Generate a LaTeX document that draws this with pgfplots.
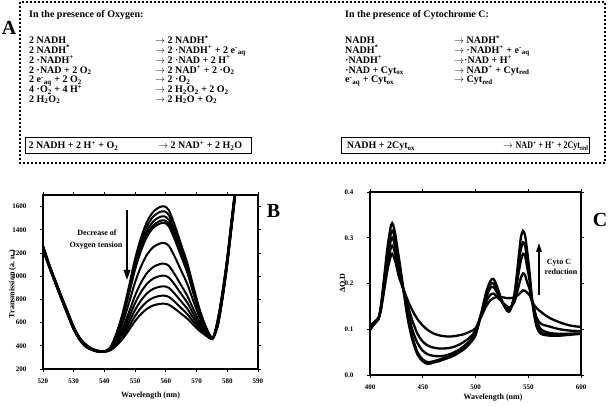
\documentclass[border=0pt]{standalone}
\usepackage{pgfplots}
\pgfplotsset{compat=1.18}
\usepackage{pgfplotstable}
\usepackage{graphicx}
\usepackage{fontspec}
\setmainfont{Liberation Serif}
\usetikzlibrary{arrows.meta}
\newcommand{\sub}[1]{\textsubscript{#1}}
\newcommand{\sups}[1]{\textsuperscript{#1}}
\newcommand{\ar}{$\rightarrow$\ }

\pgfplotstableread{
x k1 k2 k3 k4 k5 k6 k7 k8 k9 k10 k11
520 1265 1260 1255 1250 1248 1245 1240 1235 1230 1228 1225
522 1105 1102 1099 1096 1094 1092 1090 1087 1084 1082 1080
524 965 962 959 956 954 952 950 947 944 942 940
526 828 825 822 819 817 815 813 810 807 805 803
528 695 692 689 686 684 682 680 677 674 672 670
530 565 562 559 556 554 552 550 547 544 542 540
532 468 466 464 462 460 458 456 454 452 450 448
534 410 408 406 404 402 400 398 396 394 392 390
536 375 373 371 370 369 368 367 366 365 364 363
538 358 357 356 355 354 353 352 351 350 349 348
540 352 352 351 351 351 350 350 350 349 349 349
542 388 386 385 384 383 378 373 370 367 364 362
544 513 507 502 497 494 472 449 435 423 413 404
546 688 676 665 655 649 603 555 527 502 480 462
548 913 894 875 859 849 771 691 644 603 567 536
550 1151 1124 1096 1074 1060 949 835 769 710 658 614
552 1339 1305 1271 1243 1226 1089 949 867 794 731 676
554 1477 1438 1399 1368 1348 1192 1032 939 856 784 722
556 1558 1517 1475 1441 1420 1253 1081 981 892 815 749
558 1596 1553 1510 1475 1453 1281 1104 1001 909 830 761
559.5 1602 1559 1516 1481 1459 1286 1108 1004 912 832 763
561 1568 1526 1484 1450 1429 1261 1089 988 899 821 754
563 1431 1394 1358 1328 1309 1162 1011 923 845 777 718
565 1271 1241 1210 1185 1170 1047 921 847 782 725 676
567 1112 1087 1063 1043 1030 932 830 771 719 673 634
569 907 890 873 859 851 783 714 673 638 606 579
571 713 703 694 686 681 643 604 581 561 543 528
573 565 561 557 554 552 536 520 511 503 495 489
575 466 465 464 463 462 462 461 460 459 458 457
576 520 518 516 514 512 510 508 506 504 502 500
577 640 634 628 622 616 610 604 598 592 586 580
578 790 784 778 772 766 760 754 748 742 736 730
579 965 959 953 947 941 935 929 923 917 911 905
580 1160 1154 1148 1142 1136 1130 1124 1118 1112 1106 1100
581 1390 1384 1378 1372 1366 1360 1354 1348 1342 1336 1330
582 1620 1614 1608 1602 1596 1590 1584 1578 1572 1566 1560
583 1850 1844 1838 1832 1826 1820 1814 1808 1802 1796 1790
584 2080 2074 2068 2062 2056 2050 2044 2038 2032 2026 2020
}\tabB

\pgfplotstableread{
x c1 c2 c3 c4 c5
400 .098 .100 .102 .104 .106
403 .108 .110 .111 .112 .114
406 .116 .117 .118 .119 .120
408 .122 .122 .123 .124 .125
410 .145 .143 .142 .140 .138
412 .184 .179 .175 .170 .164
414 .226 .218 .210 .202 .193
416 .268 .257 .246 .234 .222
418 .302 .289 .275 .260 .245
420 .328 .312 .297 .280 .262
421 .332 .315 .300 .283 .265
422 .328 .312 .297 .280 .262
424 .307 .293 .279 .264 .248
426 .277 .265 .254 .242 .228
428 .247 .238 .230 .221 .210
430 .215 .210 .205 .200 .198
433 .165 .168 .172 .175 .180
436 .120 .125 .140 .150 .162
440 .078 .085 .100 .120 .142
445 .045 .050 .070 .090 .122
450 .030 .034 .053 .073 .108
455 .024 .028 .045 .064 .098
460 .027 .030 .042 .060 .091
465 .030 .033 .041 .058 .087
470 .034 .037 .042 .058 .085
475 .038 .041 .045 .059 .084
480 .043 .046 .050 .062 .085
485 .050 .052 .056 .067 .087
490 .058 .060 .065 .074 .090
495 .070 .072 .076 .083 .095
500 .087 .089 .092 .097 .102
505 .130 .130 .130 .130 .125
510 .180 .175 .168 .160 .150
514 .205 .198 .190 .175 .163
517 .210 .200 .192 .178 .168
520 .196 .188 .182 .172 .170
525 .163 .160 .160 .160 .170
530 .140 .142 .145 .150 .168
533 .142 .143 .145 .148 .168
537 .178 .175 .170 .160 .170
541 .260 .245 .225 .195 .176
543 .300 .275 .250 .212 .181
545 .315 .290 .265 .222 .185
547 .305 .282 .260 .218 .184
549 .270 .252 .235 .202 .180
551 .230 .220 .210 .190 .175
553 .180 .175 .170 .165 .165
555 .140 .145 .150 .150 .155
558 .105 .110 .120 .125 .146
562 .090 .093 .100 .112 .138
570 .086 .088 .092 .106 .125
580 .086 .088 .090 .100 .115
590 .088 .090 .090 .097 .108
600 .090 .091 .090 .096 .105
}\tabC

\pgfplotsset{
  panel/.style={
    anchor=south west, scale only axis,
    tick align=outside, major tick length=3pt,
    axis line style={line width=2pt},
    every tick/.style={black, line width=0.8pt},
    tick label style={font=\fontsize{7}{8}\selectfont\bfseries},
    /pgf/number format/assume math mode=true,
    /pgf/number format/1000 sep={},
    xticklabel style={anchor=center, yshift=-9pt},
    yticklabel style={anchor=east, xshift=-10pt},
  }
}

\begin{document}
\begin{tikzpicture}
\useasboundingbox (0pt,0pt) rectangle (608pt,407pt);

% dotted frame
\draw[line width=1.8pt, dash pattern=on 1.8pt off 2.2pt] (20pt,405pt) rectangle (605pt,244pt);
\node[font=\fontsize{20}{22}\selectfont\bfseries, inner sep=0] at (9pt,378.7pt) {A};

\begin{scope}[every node/.style={anchor=base west, inner sep=0, font=\fontsize{10}{12}\selectfont\bfseries}]
\node at (29pt,389pt) {In the presence of Oxygen:};
\node at (29pt,363.3pt) {2 NADH};                      \node at (155pt,363.3pt) {\ar 2 NADH\sups{*}};
\node at (29pt,353.5pt) {2 NADH\sups{*}};              \node at (155pt,353.5pt) {\ar 2 ·NADH\sups{+} + 2 e\sups{-}\sub{aq}};
\node at (29pt,343.7pt) {2 ·NADH\sups{+}};             \node at (155pt,343.7pt) {\ar 2 ·NAD + 2 H\sups{+}};
\node at (29pt,333.9pt) {2 ·NAD + 2 O\sub{2}};         \node at (155pt,333.9pt) {\ar 2 NAD\sups{+} + 2 ·O\sub{2}};
\node at (29pt,324.1pt) {2 e\sups{-}\sub{aq} + 2 O\sub{2}}; \node at (155pt,324.1pt) {\ar 2 ·O\sub{2}};
\node at (29pt,314.3pt) {4 ·O\sub{2} + 4 H\sups{+}};   \node at (155pt,314.3pt) {\ar 2 H\sub{2}O\sub{2} + 2 O\sub{2}};
\node at (29pt,304.5pt) {2 H\sub{2}O\sub{2}};          \node at (155pt,304.5pt) {\ar 2 H\sub{2}O + O\sub{2}};
\node at (28.3pt,258pt) {2 NADH + 2 H\sups{+} + O\sub{2}}; \node at (158pt,258pt) {\ar 2 NAD\sups{+} + 2 H\sub{2}O};

\node at (345pt,389pt) {In the presence of Cytochrome C:};
\node at (345pt,363.3pt) {NADH};                  \node at (454pt,363.3pt) {\ar NADH\sups{*}};
\node at (345pt,353.5pt) {NADH\sups{*}};          \node at (454pt,353.5pt) {\ar ·NADH\sups{+} + e\sups{-}\sub{aq}};
\node at (345pt,343.7pt) {·NADH\sups{+}};         \node at (454pt,343.7pt) {$\rightarrow$·NAD + H\sups{+}};
\node at (345pt,333.9pt) {·NAD + Cyt\sub{ox}};    \node at (454pt,333.9pt) {\ar NAD\sups{+} + Cyt\sub{red}};
\node at (345pt,324.1pt) {e\sups{-}\sub{aq} + Cyt\sub{ox}}; \node at (454pt,324.1pt) {$\rightarrow$ Cyt\sub{red}};
\node at (346.7pt,258pt) {NADH + 2Cyt\sub{ox}};   \node at (503pt,258pt) {\ar \scalebox{0.8}[1]{NAD\sups{+} + H\sups{+} + 2Cyt\sub{red}}};
\end{scope}
\draw[line width=0.6pt] (25pt,270pt) rectangle (251pt,254pt);
\draw[line width=0.6pt] (341pt,270pt) rectangle (589pt,254pt);

% Panel B
\begin{axis}[panel, at={(43pt,38pt)}, width=215pt, height=174pt,
  xmin=520, xmax=590, ymin=200, ymax=1700,
  xtick={520,530,...,590}, ytick={200,400,...,1600},
  xlabel={Wavelength (nm)},
  every axis x label/.style={at={(axis description cs:0.5,-0.155)}, anchor=center, font=\fontsize{8}{9}\selectfont\bfseries}]
\pgfplotsinvokeforeach{1,...,11}{
  \addplot[black, line width=2pt, smooth, no markers] table[x=x, y=k#1] {\tabB};
}
\end{axis}

% Panel C
\begin{axis}[panel, at={(370pt,32pt)}, width=211pt, height=183pt,
  xmin=400, xmax=600, ymin=0, ymax=0.4,
  xtick={400,450,...,600}, ytick={0,0.1,0.2,0.3,0.4},
  yticklabel style={/pgf/number format/fixed, /pgf/number format/fixed zerofill, /pgf/number format/precision=1},
  xlabel={Wavelength (nm)},
  every axis x label/.style={at={(axis description cs:0.583,-0.1257)}, anchor=center, font=\fontsize{8}{9}\selectfont\bfseries}]
\pgfplotsinvokeforeach{1,...,5}{
  \addplot[black, line width=2.3pt, smooth, no markers] table[x=x, y=c#1] {\tabC};
}
\end{axis}

% y-axis titles
\node[rotate=90, inner sep=0, font=\fontsize{8}{9}\selectfont\bfseries] at (12.5pt,123pt) {Transmission (a. u.)};
\node[rotate=90, inner sep=0, font=\fontsize{8}{9}\selectfont\bfseries] at (342.5pt,124pt) {ΔO.D};

\draw[line width=1.8pt, -{Triangle[length=10pt,width=6.5pt]}] (127pt,197pt) -- (127pt,127pt);
\draw[line width=1.6pt, -{Triangle[length=9pt,width=5.5pt]}] (539pt,112pt) -- (539pt,164pt);
\begin{scope}[every node/.style={anchor=base, inner sep=0, font=\fontsize{8}{9}\selectfont\bfseries}]
\node at (97pt,171pt) {Decrease of};
\node at (96pt,159.5pt) {Oxygen tension};
\node at (559pt,142.5pt) {Cyto C};
\node at (561pt,132pt) {reduction};
\end{scope}
\node[font=\fontsize{20}{22}\selectfont\bfseries, inner sep=0] at (273.5pt,196pt) {B};
\node[font=\fontsize{20}{22}\selectfont\bfseries, inner sep=0] at (600pt,187pt) {C};
\end{tikzpicture}
\end{document}
